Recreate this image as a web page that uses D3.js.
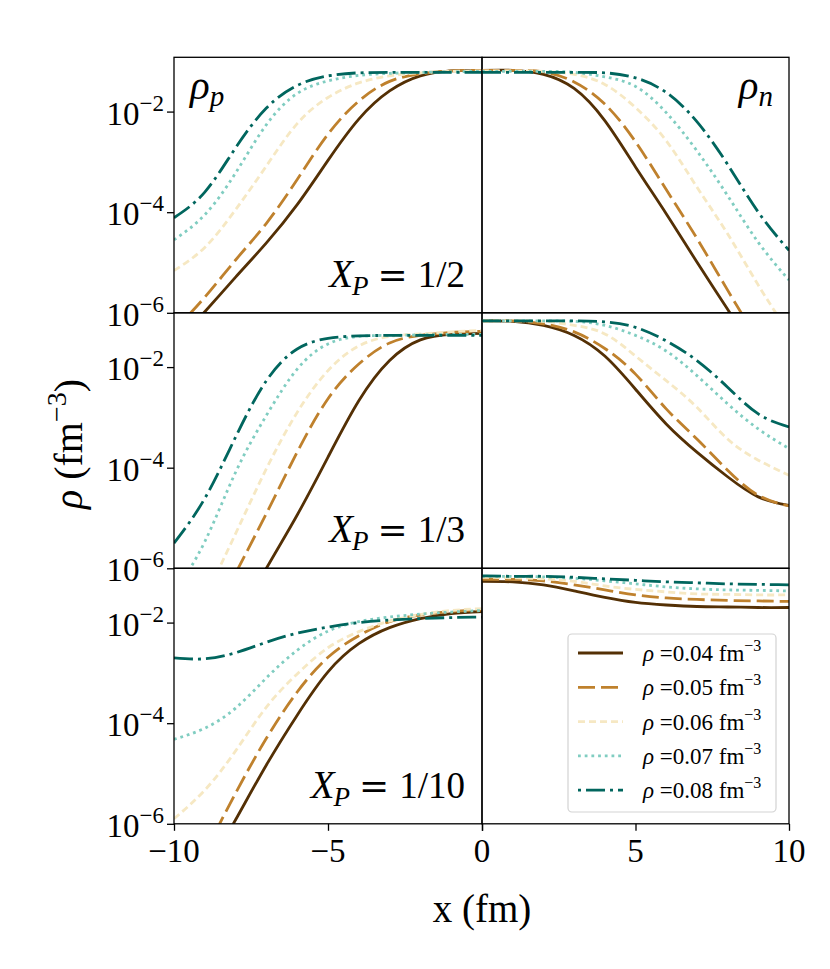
<!DOCTYPE html>
<html><head><meta charset="utf-8">
<script src="https://cdn.jsdelivr.net/npm/d3@7"></script>
<style>body{margin:0;background:#fff}svg{display:block}</style>
</head><body>
<svg id="chart" width="830" height="969"></svg>
<script>
// ---------------- data ----------------
const xLeft  = [-10,-9,-8,-7,-6,-5,-4,-3,-2,-1,0];
const xRight = [0,1,2,3,4,5,6,7,8,9,10];
const densities = ["0.04","0.05","0.06","0.07","0.08"];
const protonFractions = ["1/2","1/3","1/10"];
const yTickValues = [1e-6,1e-4,1e-2];
const yTickExponents = ["−6","−4","−2"];
const xTicksLeft = [-10,-5,0];
const xTicksRight = [0,5,10];

// log10 of density (fm^-3)
// X_P = 1/2 : protons (x<0)
const pHalf004 = [-6.65,-5.98,-5.29,-4.61,-3.85,-2.97,-2.15,-1.59,-1.29,-1.19,-1.18];
const pHalf005 = [-6.35,-5.69,-4.95,-4.22,-3.35,-2.45,-1.79,-1.40,-1.25,-1.19,-1.18];
const pHalf006 = [-5.16,-4.70,-3.95,-3.08,-2.24,-1.72,-1.43,-1.29,-1.23,-1.20,-1.19];
const pHalf007 = [-4.55,-4.05,-3.22,-2.26,-1.64,-1.39,-1.28,-1.24,-1.22,-1.21,-1.20];
const pHalf008 = [-4.11,-3.60,-2.72,-1.93,-1.48,-1.29,-1.23,-1.22,-1.22,-1.22,-1.22];
// X_P = 1/2 : neutrons (x>0)
const nHalf004 = [-1.18,-1.18,-1.26,-1.54,-2.18,-3.10,-4.03,-4.99,-5.93,-6.90,-7.90];
const nHalf005 = [-1.18,-1.18,-1.21,-1.41,-1.85,-2.60,-3.55,-4.52,-5.55,-6.55,-7.50];
const nHalf006 = [-1.19,-1.19,-1.20,-1.26,-1.46,-1.92,-2.58,-3.50,-4.43,-5.45,-6.40];
const nHalf007 = [-1.20,-1.20,-1.20,-1.22,-1.31,-1.50,-2.02,-2.78,-3.67,-4.60,-5.35];
const nHalf008 = [-1.22,-1.22,-1.22,-1.22,-1.23,-1.33,-1.62,-2.20,-3.05,-4.00,-4.76];
// X_P = 1/3 : protons
const pThird004 = [-9.30,-8.20,-7.10,-6.00,-4.94,-3.79,-2.67,-1.87,-1.46,-1.35,-1.33];
const pThird005 = [-8.50,-7.30,-6.10,-4.91,-3.69,-2.63,-1.94,-1.52,-1.37,-1.31,-1.29];
const pThird006 = [-7.90,-6.60,-5.31,-4.02,-2.90,-2.07,-1.58,-1.39,-1.34,-1.30,-1.27];
const pThird007 = [-6.50,-5.47,-4.09,-2.96,-2.04,-1.54,-1.39,-1.37,-1.36,-1.35,-1.35];
const pThird008 = [-5.50,-4.61,-3.39,-2.27,-1.64,-1.43,-1.38,-1.37,-1.37,-1.37,-1.37];
// X_P = 1/3 : neutrons
const nThird004 = [-1.08,-1.09,-1.17,-1.37,-1.78,-2.44,-3.13,-3.69,-4.18,-4.58,-4.75];
const nThird005 = [-1.08,-1.08,-1.14,-1.30,-1.63,-2.14,-2.83,-3.43,-4.05,-4.55,-4.76];
const nThird006 = [-1.08,-1.08,-1.09,-1.17,-1.34,-1.78,-2.27,-2.80,-3.43,-3.85,-4.15];
const nThird007 = [-1.08,-1.08,-1.08,-1.09,-1.17,-1.37,-1.68,-2.17,-2.73,-3.23,-3.62];
const nThird008 = [-1.08,-1.08,-1.08,-1.08,-1.10,-1.21,-1.48,-1.87,-2.40,-2.93,-3.19];
// X_P = 1/10 : protons
const pTenth004 = [-8.10,-7.00,-5.92,-4.83,-3.84,-2.98,-2.42,-2.10,-1.92,-1.82,-1.78];
const pTenth005 = [-7.80,-6.58,-5.39,-4.30,-3.38,-2.69,-2.26,-1.98,-1.85,-1.78,-1.75];
const pTenth006 = [-5.90,-5.33,-4.55,-3.68,-3.02,-2.50,-2.18,-1.97,-1.84,-1.76,-1.72];
const pTenth007 = [-4.32,-4.10,-3.70,-3.10,-2.55,-2.17,-1.98,-1.89,-1.83,-1.79,-1.76];
const pTenth008 = [-2.70,-2.72,-2.60,-2.39,-2.21,-2.09,-2.00,-1.95,-1.92,-1.90,-1.89];
// X_P = 1/10 : neutrons
const nTenth004 = [-1.18,-1.19,-1.25,-1.37,-1.50,-1.60,-1.65,-1.68,-1.69,-1.70,-1.70];
const nTenth005 = [-1.14,-1.14,-1.17,-1.25,-1.35,-1.45,-1.51,-1.54,-1.56,-1.57,-1.58];
const nTenth006 = [-1.10,-1.11,-1.13,-1.18,-1.27,-1.34,-1.39,-1.43,-1.44,-1.45,-1.45];
const nTenth007 = [-1.08,-1.08,-1.09,-1.12,-1.17,-1.23,-1.29,-1.33,-1.35,-1.36,-1.37];
const nTenth008 = [-1.07,-1.08,-1.08,-1.10,-1.13,-1.16,-1.19,-1.21,-1.23,-1.24,-1.25];

const protonRows  = [[pHalf004,pHalf005,pHalf006,pHalf007,pHalf008],
                     [pThird004,pThird005,pThird006,pThird007,pThird008],
                     [pTenth004,pTenth005,pTenth006,pTenth007,pTenth008]];
const neutronRows = [[nHalf004,nHalf005,nHalf006,nHalf007,nHalf008],
                     [nThird004,nThird005,nThird006,nThird007,nThird008],
                     [nTenth004,nTenth005,nTenth006,nTenth007,nTenth008]];

// ---------------- style / layout ----------------
const colors = ["#543005","#bf812d","#f6e8c3","#80cdc1","#01665e"];
const dashes = [null,"17,6","7,4","2.8,3.9","19,5,3,5"];
const FONT = "'Liberation Serif','DejaVu Serif',serif";
const L = 174, M = 482, R = 789;
const rowTops = [57.3, 312.8, 568.3];
const rowH = 255.5;
const yMax = 0.12;

const svg = d3.select("#chart");
const xL = d3.scaleLinear().domain([-10,0]).range([L,M]);
const xR = d3.scaleLinear().domain([0,10]).range([M,R]);
const defs = svg.append("defs");

function xpLabel(right, base, frac) {
  const g = svg.append("g").attr("font-family", FONT);
  const num = g.append("text").attr("x", right).attr("y", base).attr("text-anchor", "end")
    .attr("font-size", 37).text(frac);
  let edge = right - num.node().getComputedTextLength() - 10;
  const eq = g.append("text").attr("x", edge).attr("y", base).attr("text-anchor", "end")
    .attr("font-family", "'DejaVu Serif',serif").attr("font-size", 36).text("=");
  edge -= eq.node().getComputedTextLength() + 9;
  const xp = g.append("text").attr("x", edge).attr("y", base).attr("text-anchor", "end")
    .attr("font-style", "italic").attr("font-size", 39);
  xp.append("tspan").text("X");
  xp.append("tspan").attr("font-size", 27).attr("dx", -1).attr("dy", 8).text("P");
}

rowTops.forEach((top, r) => {
  const bottom = top + rowH;
  const y = d3.scaleLog().domain([1e-6, yMax]).range([bottom, top]);
  [["L", xL, xLeft, protonRows[r]], ["R", xR, xRight, neutronRows[r]]].forEach(([side, x, xs, series]) => {
    const id = `clip${r}${side}`;
    const [x0, x1] = x.range();
    defs.append("clipPath").attr("id", id).append("rect")
      .attr("x", x0).attr("y", top).attr("width", x1 - x0).attr("height", rowH);
    const g = svg.append("g").attr("clip-path", `url(#${id})`);
    const line = d3.line()
      .x((d, i) => x(xs[i]))
      .y(d => y(Math.pow(10, d)))
      .curve(d3.curveNatural);
    series.forEach((vals, k) => {
      g.append("path").attr("d", line(vals))
        .attr("fill", "none").attr("stroke", colors[k])
        .attr("stroke-width", 2.8)
        .attr("stroke-dasharray", dashes[k]);
    });
    svg.append("rect").attr("x", x0).attr("y", top).attr("width", x1 - x0).attr("height", rowH)
      .attr("fill", "none").attr("stroke", "#000").attr("stroke-width", 1.3);
  });

  const ax = svg.append("g").attr("transform", `translate(${L},0)`)
    .call(d3.axisLeft(y).tickValues(yTickValues).tickFormat(() => "").tickSizeOuter(0).tickSize(7));
  ax.select(".domain").remove();
  ax.selectAll(".tick line").attr("stroke-width", 1.3);
  yTickValues.forEach((v, i) => {
    const t = svg.append("text").attr("x", L - 10).attr("y", y(v) + 13)
      .attr("text-anchor", "end").attr("font-family", FONT).attr("font-size", 33);
    t.append("tspan").text("10");
    t.append("tspan").attr("font-size", 23).attr("dy", -14).text(yTickExponents[i]);
  });

  xpLabel(M - 17, bottom - 26, protonFractions[r]);
});

// x axes on bottom row
const bottomY = rowTops[2] + rowH;
[[xL, xTicksLeft], [xR, xTicksRight]].forEach(([x, ticks], j) => {
  const ax = svg.append("g").attr("transform", `translate(0,${bottomY})`)
    .call(d3.axisBottom(x).tickValues(ticks).tickFormat(() => "").tickSizeOuter(0).tickSize(7));
  ax.select(".domain").remove();
  ax.selectAll(".tick line").attr("stroke-width", 1.3);
  ticks.forEach(v => {
    if (j === 1 && v === 0) return;
    svg.append("text").attr("x", x(v)).attr("y", bottomY + 38)
      .attr("text-anchor", "middle").attr("font-family", FONT).attr("font-size", 33)
      .text(v < 0 ? "−" + Math.abs(v) : String(v));
  });
});

// panel labels rho_p / rho_n
const rp = svg.append("text").attr("x", 190).attr("y", 99).attr("font-family", FONT).attr("font-size", 41).attr("font-style", "italic");
rp.append("tspan").text("ρ");
rp.append("tspan").attr("font-size", 29).attr("dy", 7).text("p");
const rn = svg.append("text").attr("x", 773).attr("y", 99).attr("text-anchor", "end").attr("font-family", FONT).attr("font-size", 41).attr("font-style", "italic");
rn.append("tspan").text("ρ");
rn.append("tspan").attr("font-size", 29).attr("dy", 7).text("n");

// axis titles
svg.append("text").attr("x", 482).attr("y", 922).attr("text-anchor", "middle")
  .attr("font-family", FONT).attr("font-size", 39).text("x (fm)");
const yl = svg.append("text").attr("transform", "translate(82,444) rotate(-90)")
  .attr("text-anchor", "middle").attr("font-family", FONT).attr("font-size", 40);
yl.append("tspan").attr("font-style", "italic").text("ρ");
yl.append("tspan").text(" (fm");
yl.append("tspan").attr("font-size", 28).attr("dy", -16).text("−3");
yl.append("tspan").attr("dy", 16).text(")");

// legend
const lg = svg.append("g");
lg.append("rect").attr("x", 568).attr("y", 634).attr("width", 208).attr("height", 178)
  .attr("rx", 4).attr("fill", "#fff").attr("fill-opacity", 0.8)
  .attr("stroke", "#d3d3d3").attr("stroke-width", 1.2);
densities.forEach((d, k) => {
  const yy = 653 + k * 34.3;
  lg.append("line").attr("x1", 578).attr("x2", 623).attr("y1", yy).attr("y2", yy)
    .attr("stroke", colors[k]).attr("stroke-width", 2.8)
    .attr("stroke-dasharray", dashes[k])
    .attr("stroke-dashoffset", k === 4 ? 24 : 0);
  const t = lg.append("text").attr("x", 643).attr("y", yy + 8)
    .attr("font-family", FONT).attr("font-size", 23);
  t.append("tspan").attr("font-style", "italic").text("ρ");
  t.append("tspan").text(" =" + d + " fm");
  t.append("tspan").attr("font-size", 16).attr("dy", -10).text("−3");
});
</script>
</body></html>
